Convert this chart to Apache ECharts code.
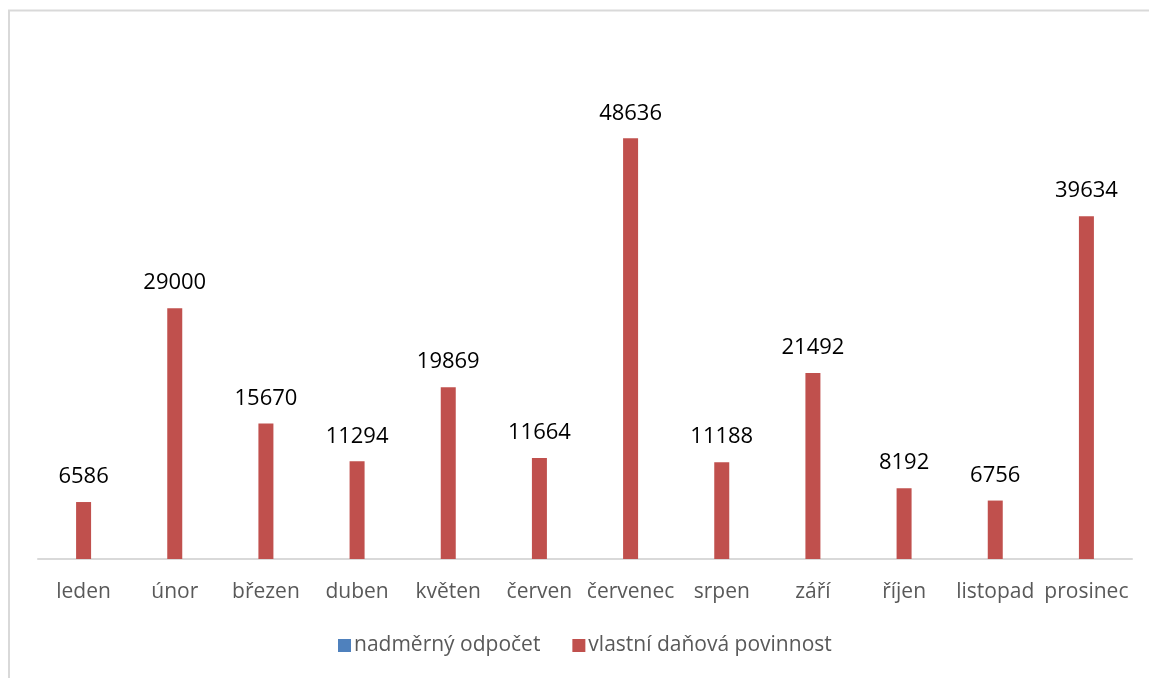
<!DOCTYPE html>
<html>
<head>
<meta charset="utf-8">
<script src="https://cdn.jsdelivr.net/npm/echarts@6/dist/echarts.min.js"></script>
<style>
html,body{margin:0;padding:0;background:#fff;}
#chart{width:1149px;height:678px;}
</style>
</head>
<body>
<div id="chart"></div>
<script>
const categories = ['leden','únor','březen','duben','květen','červen','červenec','srpen','září','říjen','listopad','prosinec'];
const seriesNames = ['nadměrný odpočet','vlastní daňová povinnost'];
const nadmernyOdpocet = [null,null,null,null,null,null,null,null,null,null,null,null];
const vlastniDanovaPovinnost = [6586,29000,15670,11294,19869,11664,48636,11188,21492,8192,6756,39634];

const chart = echarts.init(document.getElementById('chart'));
const font = '"Open Sans", "Noto Sans", sans-serif';
chart.setOption({
  animation: false,
  backgroundColor: '#fff',
  textStyle: {fontFamily: font},
  graphic: [{
    type: 'rect', silent: true, z: -1,
    shape: {x: 9, y: 10.5, width: 1300, height: 800},
    style: {fill: 'none', stroke: '#d9d9d9', lineWidth: 2}
  }],
  legend: {
    data: seriesNames,
    left: 333, top: 630,
    itemWidth: 13, itemHeight: 13, itemGap: 32,
    icon: 'rect',
    textStyle: {fontFamily: font, fontSize: 21, color: '#595959', padding: [0,0,0,-2]}
  },
  grid: {left: 38, right: 17, top: 40, bottom: 119, containLabel: false},
  xAxis: {
    type: 'category', data: categories,
    axisLine: {lineStyle: {color: '#d9d9d9', width: 2}},
    axisTick: {show: false},
    axisLabel: {color: '#595959', fontSize: 21, margin: 23, fontFamily: font, interval: 0}
  },
  yAxis: {
    type: 'value', min: 0, max: 60000, show: false,
    splitLine: {show: false}
  },
  series: [
    {
      name: seriesNames[0], type: 'bar', data: nadmernyOdpocet,
      barWidth: 15, barGap: '-100%',
      itemStyle: {color: '#4f81bd'}
    },
    {
      name: seriesNames[1], type: 'bar', data: vlastniDanovaPovinnost,
      barWidth: 15, barGap: '-100%',
      itemStyle: {color: '#c0504d'},
      label: {show: true, position: 'top', distance: 14, color: '#000', fontSize: 22, fontFamily: font}
    }
  ]
});
</script>
</body>
</html>
